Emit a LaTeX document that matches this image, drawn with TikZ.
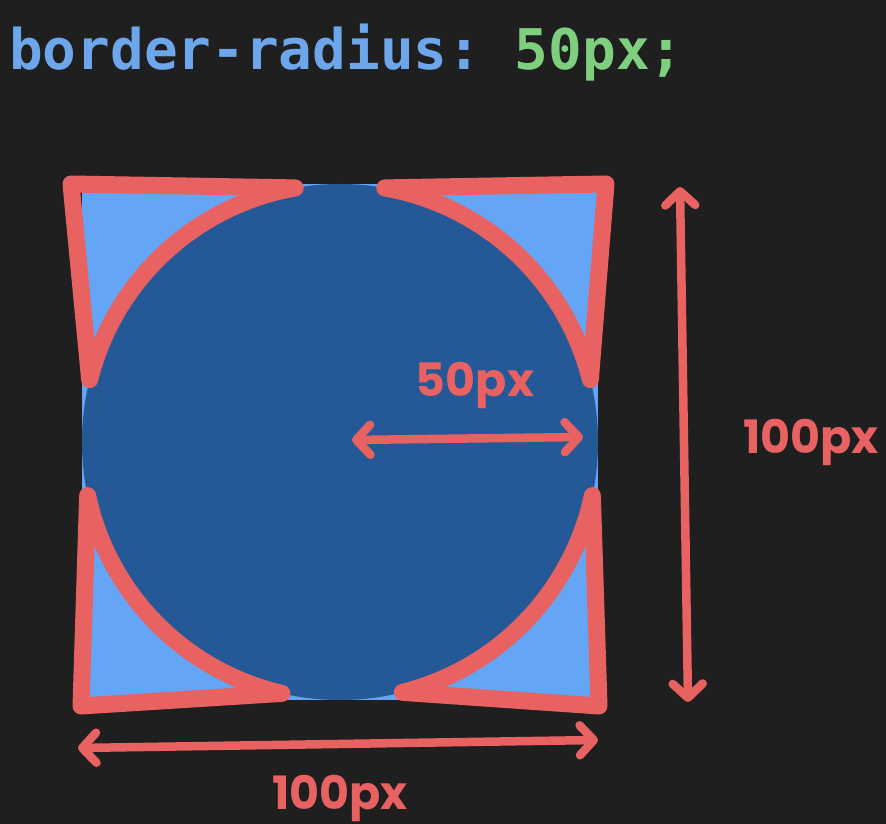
\documentclass[tikz,border=0pt]{standalone}
\usepackage{fontspec}
\setmonofont{DejaVu Sans Mono}
\newfontfamily\handfont{Poppins}
\usetikzlibrary{arrows.meta,calc}
\definecolor{bg}{HTML}{1F1F1F}
\definecolor{codeblue}{HTML}{6EA6EC}
\definecolor{codegreen}{HTML}{7ECF7E}
\definecolor{boxblue}{HTML}{65A5F5}
\definecolor{discblue}{HTML}{255896}
\definecolor{markred}{HTML}{E96262}
\tikzset{
    corner mark/.style = {
        draw = markred,
        line width = 17pt,
        line join = round,
        line cap = round,
        },
    dim arrow/.style = {
        draw = markred,
        line width = 8.5pt,
        line cap = round,
        {Straight Barb[length=14pt, width=30pt, round]}-{Straight Barb[length=14pt, width=30pt, round]},
        },
    dim label/.style = {
        text = markred,
        inner sep = 0pt,
        font = \handfont\bfseries\fontsize{46}{50}\selectfont,
        },
}
\begin{document}
\begin{tikzpicture}[x=1pt, y=1pt]
    \path[use as bounding box, fill=bg] (0,0) rectangle (886,824);

    \node[anchor=base west, inner sep=0pt, font=\ttfamily\bfseries\fontsize{56}{60}\selectfont] (title) at (9,754)
        {\textcolor{codeblue}{border-radius:} \textcolor{codegreen}{50px;}};

    \coordinate (c) at (340,382);
    \coordinate (tl) at (71,640);
    \coordinate (tr) at (606,640);
    \coordinate (bl) at (81,118);
    \coordinate (br) at (599,118);

    \fill[boxblue] (82,124) rectangle (598,640);
    \fill[discblue] (c) circle[radius=258];

    \draw[corner mark] (tl) -- ($(c)+(100:258)$) arc[start angle=100, end angle=166, radius=258] -- cycle;
    \draw[corner mark] (tr) -- ($(c)+(80:258)$) arc[start angle=80, end angle=14, radius=258] -- cycle;
    \draw[corner mark] (bl) -- ($(c)+(192:258)$) arc[start angle=192, end angle=257, radius=258] -- cycle;
    \draw[corner mark] (br) -- ($(c)+(284:258)$) arc[start angle=284, end angle=348, radius=258] -- cycle;

    % radius
    \coordinate (r0) at (352,384);
    \coordinate (r1) at (583,387);
    \draw[dim arrow] (r0) -- (r1);
    \node[dim label] (rlabel) at (475,439) {50px};

    % height
    \coordinate (h0) at (680,637);
    \coordinate (h1) at (688,122);
    \draw[dim arrow] (h0) -- (h1);
    \node[dim label] (hlabel) at (811,382) {100px};

    % width
    \coordinate (w0) at (78,76);
    \coordinate (w1) at (598,84);
    \draw[dim arrow] (w0) -- (w1);
    \node[dim label] (wlabel) at (340,26) {100px};
\end{tikzpicture}
\end{document}
